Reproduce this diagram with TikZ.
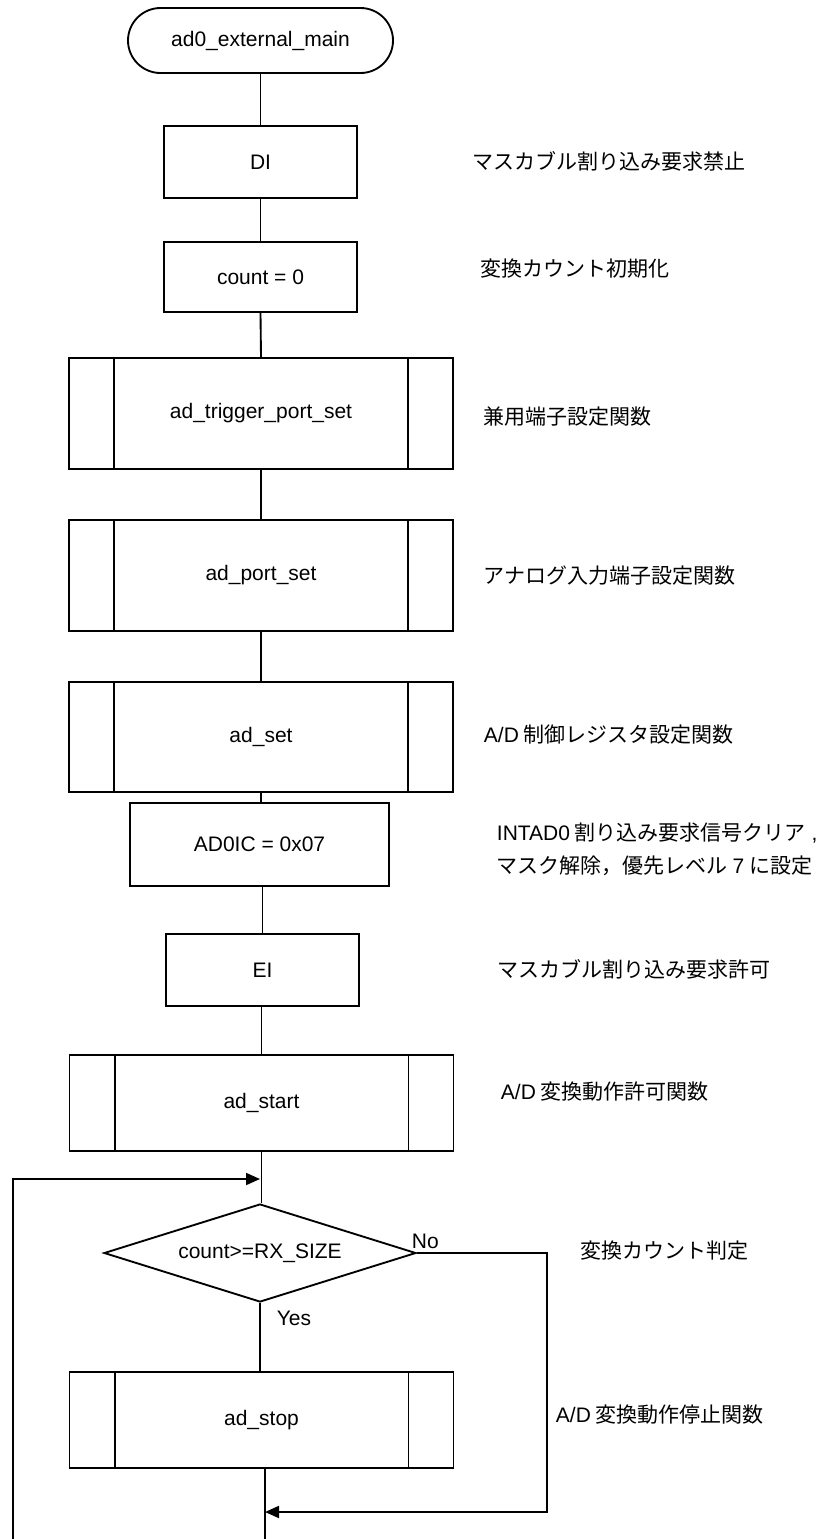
\documentclass[tikz,border=0pt]{standalone}
\usepackage{fontspec}
\setmainfont{Liberation Sans}
\newfontfamily\jpfont{Noto Sans CJK JP}
\usetikzlibrary{shapes.geometric,shapes.misc,arrows.meta}

\tikzset{every picture/.style={line width=1.4pt}}
\tikzset{
  proc/.style={draw, rectangle, inner sep=0pt, font=\fontsize{15.75}{19}\selectfont},
  note/.style={anchor=west, inner sep=0pt, align=left, font=\jpfont\fontsize{15.75}{24.75}\selectfont},
  lbl/.style={inner sep=0pt, font=\fontsize{15.75}{19}\selectfont},
  flow/.style={-{Triangle[length=10.5pt,width=9pt]}},
}

\begin{document}
\begin{tikzpicture}[x=0.75pt,y=0.75pt,yscale=-1,xscale=1]
\useasboundingbox (0,0) rectangle (821,1539);

%Shape: Terminal
\node [proc, rounded rectangle, minimum width=198.75pt, minimum height=48.75pt] (mainst) at (260.5,40.5) {ad0\_external\_main};

%Shape: Rectangle
\node [proc, minimum width=144.75pt, minimum height=54pt] (di) at (260.5,162) {DI};
%Shape: Rectangle
\node [proc, minimum width=144.75pt, minimum height=52.5pt] (cnt) at (260.5,277) {count = 0};
%Shape: Predefined process
\node [proc, minimum width=288pt, minimum height=83.25pt] (trig) at (261,413.5) {ad\_trigger\_port\_set};
%Shape: Predefined process
\node [proc, minimum width=288pt, minimum height=83.25pt] (port) at (261,575.5) {ad\_port\_set};
%Shape: Predefined process
\node [proc, minimum width=288pt, minimum height=82.5pt] (adset) at (261,737) {ad\_set};
%Shape: Rectangle
\node [proc, minimum width=194.25pt, minimum height=62.25pt] (ic) at (259.5,844.5) {AD0IC = 0x07};
%Shape: Rectangle
\node [proc, minimum width=144.75pt, minimum height=54pt] (ei) at (262.5,970) {EI};
%Shape: Predefined process
\node [proc, minimum width=288pt, minimum height=72pt] (adst) at (261.5,1103) {ad\_start};
%Shape: Diamond
\node [proc, diamond, aspect=3.2, minimum width=234pt, minimum height=73.5pt] (dec) at (260,1253) {count>=RX\_SIZE};
%Shape: Predefined process
\node [proc, minimum width=288pt, minimum height=72pt] (stop) at (261.5,1420) {ad\_stop};

%Inner sides of predefined processes
\draw ([xshift=34.5pt]trig.north west) -- ([xshift=34.5pt]trig.south west);
\draw ([xshift=-34.5pt]trig.north east) -- ([xshift=-34.5pt]trig.south east);
\draw ([xshift=34.5pt]port.north west) -- ([xshift=34.5pt]port.south west);
\draw ([xshift=-34.5pt]port.north east) -- ([xshift=-34.5pt]port.south east);
\draw ([xshift=34.5pt]adset.north west) -- ([xshift=34.5pt]adset.south west);
\draw ([xshift=-34.5pt]adset.north east) -- ([xshift=-34.5pt]adset.south east);
\draw ([xshift=34.5pt]adst.north west) -- ([xshift=34.5pt]adst.south west);
\draw ([xshift=-34.5pt]adst.north east) -- ([xshift=-34.5pt]adst.south east);
\draw ([xshift=34.5pt]stop.north west) -- ([xshift=34.5pt]stop.south west);
\draw ([xshift=-34.5pt]stop.north east) -- ([xshift=-34.5pt]stop.south east);

%Straight Lines
\draw (mainst.south) -- (di.north);
\draw (di.south) -- (cnt.north);
\draw (cnt.south) -- (trig.north);
\draw (trig.south) -- (port.north);
\draw (port.south) -- (adset.north);
\draw (adset.south) -- (ic.north -| adset.south);
\draw (ic.south -| ei.north) -- (ei.north);
\draw (ei.south -| adst.north) -- (adst.north);
\draw (adst.south) -- (dec.north -| adst.south);
\draw (dec.south) -- (stop.north -| dec.south);

%Loop back
\coordinate (lpBot) at (13,1539);
\coordinate (lpTop) at (13,1179);
\draw [flow] (lpBot) -- (lpTop) -- (lpTop -| dec.north);

%No branch
\coordinate (noR) at (547,1253);
\coordinate (noB) at (547,1512);
\coordinate (outB) at (265,1539);
\draw [flow] (dec.east) -- (noR) -- (noB) -- (noB -| outB);
\draw (stop.south -| outB) -- (outB);

% Text Node
\node [lbl, anchor=south west] (nolbl) at (411,1250) {No};
% Text Node
\node [lbl] (yeslbl) at (294,1318) {Yes};

% Text Node
\node [note] (n1) at (472,161) {マスカブル割り込み要求禁止};
% Text Node
\node [note] (n2) at (480,269) {変換カウント初期化};
% Text Node
\node [note] (n3) at (483,417) {兼用端子設定関数};
% Text Node
\node [note] (n4) at (483,576) {アナログ入力端子設定関数};
% Text Node
\node [note] (n5) at (483,735) {\textrm{A/D} 制御レジスタ設定関数};
% Text Node
\node [note] (n6) at (496,849.5) {\textrm{INTAD0} 割り込み要求信号クリア\textrm{ ,}\\マスク解除，優先レベル \textrm{7} に設定};
% Text Node
\node [note] (n7) at (497,969) {マスカブル割り込み要求許可};
% Text Node
\node [note] (n8) at (500,1092) {\textrm{A/D} 変換動作許可関数};
% Text Node
\node [note] (n9) at (580,1251) {変換カウント判定};
% Text Node
\node [note] (n10) at (555,1415) {\textrm{A/D} 変換動作停止関数};

\end{tikzpicture}
\end{document}
